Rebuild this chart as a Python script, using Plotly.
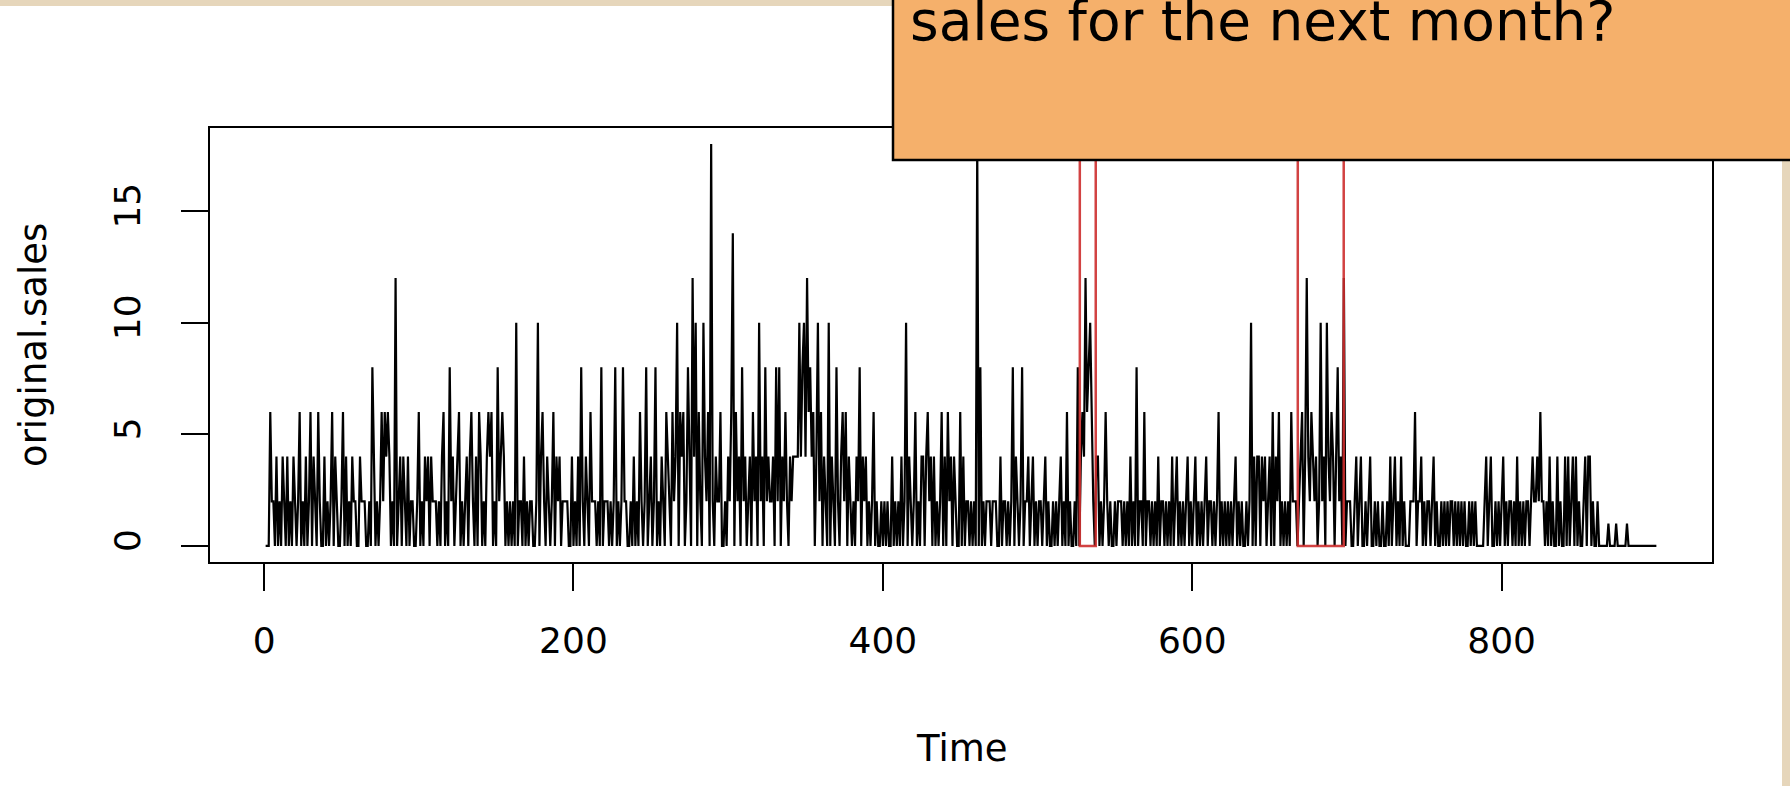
import plotly.graph_objects as go

# ---- data: original.sales, time 1..900 ----
sales_001_100 = [0,0,0,6,2,2,0,4,0,2, 0,4,2,0,4,0,2,0,4,2, 0,2,6,0,2,0,4,0,2,6, 0,4,2,0,6,2,0,0,4,0,
                 2,0,2,6,0,4,2,0,0,2, 6,0,4,0,2,0,4,2,2,0, 0,4,2,2,2,0,0,2,0,8, 4,0,2,0,2,6,2,6,4,6,
                 4,0,2,0,12,0,2,4,0,4, 2,0,4,0,2,2,0,0,2,6]
sales_101_200 = [0,2,0,4,2,4,0,4,2,2, 2,0,2,0,4,6,0,2,0,8, 2,4,0,2,4,6,0,2,0,2, 4,0,4,6,2,0,4,0,6,4,
                 0,2,0,4,6,4,6,0,2,0, 8,2,4,6,4,0,2,0,2,0, 2,0,10,0,2,2,0,4,0,2, 0,2,2,0,0,2,10,0,4,6,
                 2,0,4,2,0,2,6,0,4,2, 4,0,2,2,2,2,0,0,4,0]
sales_201_300 = [2,0,4,0,8,2,0,4,2,0, 6,2,2,2,0,2,0,8,0,2, 2,2,0,2,0,2,8,0,2,0, 2,8,2,2,0,0,2,0,4,0,
                 2,0,6,2,0,2,8,0,2,4, 0,2,8,0,2,0,4,2,0,6, 4,2,0,6,2,4,10,0,6,4, 6,0,2,8,4,0,12,4,10,0,
                 6,2,0,10,4,2,6,0,18,2, 0,4,2,2,6,0,0,2,0,4]
sales_301_400 = [2,6,14,0,6,2,4,0,8,2, 4,0,2,4,0,6,2,4,0,10, 2,4,0,8,2,4,2,2,4,0, 8,2,8,0,4,2,6,2,0,4,
                 2,4,4,4,4,10,4,8,10,4, 12,6,8,4,6,0,4,10,2,6, 0,4,2,0,10,0,4,2,0,8, 2,0,4,6,2,6,0,4,2,0,
                 2,0,4,2,8,0,4,2,4,0, 2,0,2,6,0,2,0,0,2,0]
sales_401_500 = [2,0,2,0,0,4,0,2,0,2, 0,4,0,2,10,0,4,2,0,2, 6,0,2,0,4,4,0,4,6,2, 4,0,4,0,2,0,2,6,0,4,
                 0,6,2,4,0,4,2,0,0,6, 0,4,0,2,2,0,2,0,2,0, 18,0,8,0,2,0,2,2,2,0, 2,2,2,0,0,4,0,2,2,0,
                 2,0,2,8,0,4,2,0,2,8, 0,2,2,4,0,2,4,0,2,0]
sales_501_600 = [2,2,0,2,4,0,2,0,0,2, 0,2,0,2,4,0,2,0,6,0, 2,0,0,2,0,8,0,4,6,4, 12,6,8,10,6,2,0,4,4,0,
                 2,0,2,6,2,0,2,0,0,2, 0,2,2,2,0,2,0,2,0,4, 0,2,0,8,0,2,2,0,6,0, 2,2,0,2,0,2,0,4,0,2,
                 2,0,2,0,2,0,4,0,2,4, 0,2,0,2,0,2,4,0,2,0]
sales_601_700 = [2,4,0,2,0,2,0,2,4,0, 2,2,0,2,0,2,6,0,2,0, 2,0,2,0,2,0,2,4,0,2, 0,2,0,0,2,0,2,10,0,4,
                 0,4,4,0,4,2,4,0,2,4, 0,6,0,4,2,6,0,2,0,2, 0,2,0,6,2,2,2,0,2,4, 6,0,4,12,4,2,6,4,2,4,
                 0,2,10,2,4,0,10,4,2,6, 4,0,4,8,2,4,0,12,0,2]
sales_701_800 = [2,2,0,0,2,4,0,2,4,0, 0,2,0,2,4,0,0,2,0,2, 0,0,2,0,0,2,0,4,0,2, 4,0,2,0,4,0,2,0,0,0,
                 2,2,2,6,0,2,2,4,0,2, 0,2,2,0,2,4,0,2,0,0, 2,0,2,0,2,0,2,2,0,2, 0,2,0,2,0,2,0,0,2,0,
                 2,0,2,0,0,0,0,0,2,4, 0,2,4,0,0,2,0,2,0,2]
sales_801_900 = [4,0,2,0,2,2,0,2,0,4, 0,2,0,2,0,2,2,0,2,4, 2,2,4,2,6,2,2,0,2,0, 4,0,2,0,0,4,0,2,0,0,
                 4,0,4,0,2,4,0,4,0,2, 0,0,2,4,0,4,4,0,2,0, 0,2,0,0,0,0,0,0,1,0, 0,0,0,1,0,0,0,0,0,0,
                 1,0,0,0,0,0,0,0,0,0, 0,0,0,0,0,0,0,0,0,0]

sales = (sales_001_100 + sales_101_200 + sales_201_300 + sales_301_400 + sales_401_500
         + sales_501_600 + sales_601_700 + sales_701_800 + sales_801_900)
time = list(range(1, len(sales) + 1))

x_ticks = [0, 200, 400, 600, 800]
y_ticks = [0, 5, 10, 15]
highlight_windows = [(527.3, 537.6), (668.2, 697.9)]   # in time units
callout_text = "sales for the next month?"
x_title = "Time"
y_title = "original.sales"

FONT = "DejaVu Sans"
W, H = 1790, 786
ML, MR, MT, MB = 210, 78, 128, 224
PW, PH = W - ML - MR, H - MT - MB

def px_x(p):  # page px -> paper x
    return (p - ML) / PW

def px_y(p):  # page px -> paper y
    return (H - MB - p) / PH

n = len(sales)
xr = [1 - 0.04 * (n - 1), n + 0.04 * (n - 1)]
ymax = max(sales)
yr = [-0.04 * ymax, ymax * 1.04]

fig = go.Figure()
fig.add_trace(go.Scatter(x=time, y=sales, mode="lines",
                         line=dict(color="black", width=2.2), hoverinfo="skip"))

shapes = []
for a, b in highlight_windows:
    shapes.append(dict(type="rect", xref="x", yref="y", x0=a, x1=b, y0=0, y1=yr[1] + 2,
                       line=dict(color="rgba(205,45,45,0.9)", width=2.5), layer="above"))
# top beige band
shapes.append(dict(type="rect", xref="paper", yref="paper", x0=px_x(-5), x1=px_x(893),
                   y0=px_y(6), y1=px_y(-5), fillcolor="rgb(230,214,187)", line=dict(width=0),
                   layer="above"))
# right beige strip
shapes.append(dict(type="rect", xref="paper", yref="paper", x0=px_x(1782), x1=px_x(1795),
                   y0=px_y(795), y1=px_y(160), fillcolor="rgb(230,214,187)", line=dict(width=0),
                   layer="above"))
# orange callout
shapes.append(dict(type="rect", xref="paper", yref="paper", x0=px_x(893), x1=px_x(1800),
                   y0=px_y(160), y1=px_y(-20), fillcolor="#F5B06B",
                   line=dict(color="black", width=2.5), layer="above"))

annotations = [
    dict(text=callout_text, xref="paper", yref="paper", x=px_x(908), y=px_y(55),
         xanchor="left", yanchor="bottom", showarrow=False,
         font=dict(family=FONT, size=55, color="black")),
    dict(text=x_title, xref="paper", yref="paper", x=px_x(962), y=px_y(748),
         xanchor="center", yanchor="middle", showarrow=False,
         font=dict(family=FONT, size=37, color="black")),
    dict(text=y_title, xref="paper", yref="paper", x=px_x(33), y=px_y(345),
         xanchor="center", yanchor="middle", textangle=-90, showarrow=False,
         font=dict(family=FONT, size=37, color="black")),
]

fig.update_layout(
    width=W, height=H, autosize=False,
    margin=dict(l=ML, r=MR, t=MT, b=MB, pad=0),
    paper_bgcolor="white", plot_bgcolor="white",
    showlegend=False, shapes=shapes, annotations=annotations,
)
fig.update_xaxes(range=xr, tickvals=x_ticks, ticktext=[str(v) for v in x_ticks],
                 showgrid=False, zeroline=False, showline=True, mirror=True,
                 linecolor="black", linewidth=2, ticks="outside", ticklen=27, tickwidth=2,
                 tickcolor="black", ticklabelstandoff=19,
                 tickfont=dict(family=FONT, size=36, color="black"))
fig.update_yaxes(range=yr, tickvals=y_ticks, ticktext=[str(v) for v in y_ticks],
                 showgrid=False, zeroline=False, showline=True, mirror=True,
                 linecolor="black", linewidth=2, ticks="outside", ticklen=27, tickwidth=2,
                 tickcolor="black", tickangle=-90, ticklabelstandoff=27,
                 tickfont=dict(family=FONT, size=36, color="black"))

fig.write_html("out.html", config={"displayModeBar": False},
               post_script="document.body.style.margin='0px';document.body.style.overflow='hidden';")
